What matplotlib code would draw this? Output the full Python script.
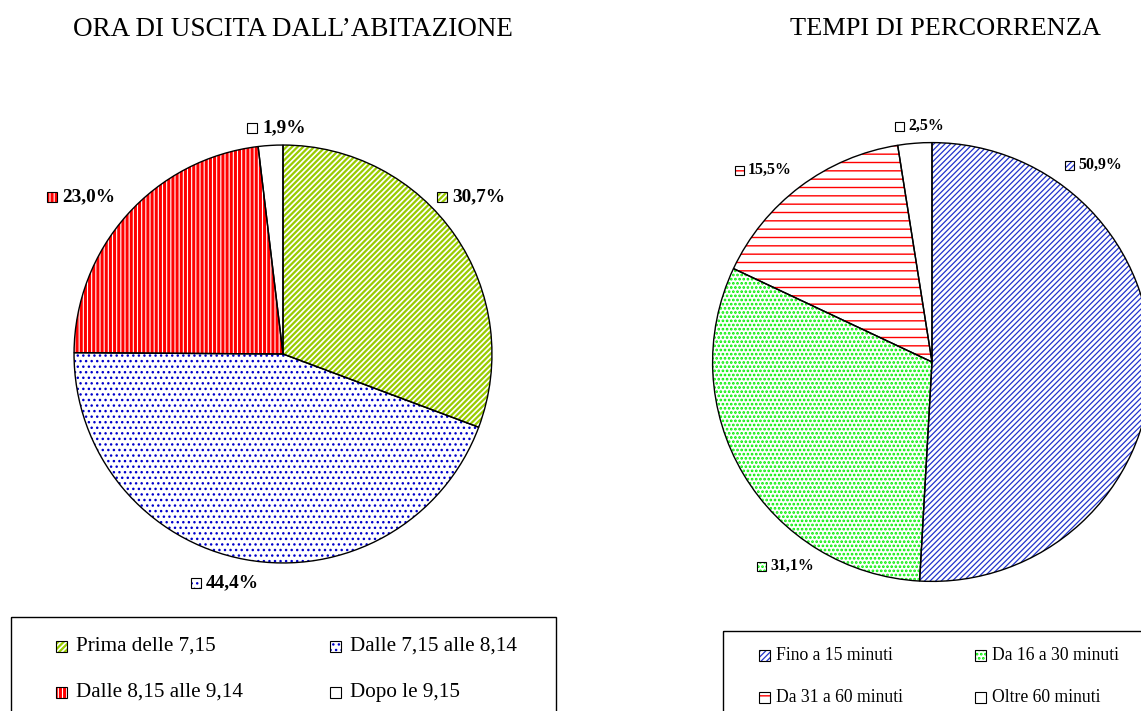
import matplotlib
matplotlib.use("Agg")
import matplotlib.pyplot as plt
from matplotlib.patches import Rectangle

# ---------------- data ----------------
title_left = "ORA DI USCITA DALL\u2019ABITAZIONE"
cats_left = ["Prima delle 7,15", "Dalle 7,15 alle 8,14", "Dalle 8,15 alle 9,14", "Dopo le 9,15"]
vals_left = [30.7, 44.4, 23.0, 1.9]

title_right = "TEMPI DI PERCORRENZA"
cats_right = ["Fino a 15 minuti", "Da 16 a 30 minuti", "Da 31 a 60 minuti", "Oltre 60 minuti"]
vals_right = [50.9, 31.1, 15.5, 2.5]

# ---------------- style ----------------
plt.rcParams['font.family'] = ['Liberation Serif', 'DejaVu Serif']
plt.rcParams['hatch.linewidth'] = 1.0

W, H = 1141, 711
fig = plt.figure(figsize=(W / 100, H / 100), dpi=100)

hatch_left = ['//////', '...', '||||', '']
hcol_left = ['#99CC00', '#0000CC', '#FF0000', 'white']
hlw_left = [1.6, 1.0, 2.2, 1.0]
hatch_right = ['//////', '....', '--', '']
hcol_right = ['#2233CC', '#00EE00', '#FF0000', 'white']
hlw_right = [0.9, 1.3, 1.0, 1.0]


def set_hlw(p, lw):
    if hasattr(p, 'set_hatch_linewidth'):
        p.set_hatch_linewidth(lw)
    else:
        p._hatch_linewidth = lw


def pie_axes(cx, cy, r):
    return fig.add_axes([(cx - r) / W, (H - cy - r) / H, 2 * r / W, 2 * r / H])


def draw_pie(ax, vals, hatches, hcols, hlws):
    wedges, _ = ax.pie(vals, startangle=90, counterclock=False, radius=1,
                       wedgeprops=dict(linewidth=0, facecolor='white'))
    for w, h, c, lw in zip(wedges, hatches, hcols, hlws):
        w.set_hatch(h)
        w.set_edgecolor(c)
        w.set_linewidth(0)
        set_hlw(w, lw)
    ax.pie(vals, startangle=90, counterclock=False, radius=1,
           wedgeprops=dict(linewidth=1.0, edgecolor='black', fill=False))
    ax.set_xlim(-1.005, 1.005)
    ax.set_ylim(-1.005, 1.005)
    ax.set_aspect('equal')
    ax.axis('off')


axL = pie_axes(283, 354, 210)
draw_pie(axL, vals_left, hatch_left, hcol_left, hlw_left)
axR = pie_axes(932, 362, 220.5)
draw_pie(axR, vals_right, hatch_right, hcol_right, hlw_right)

# overlay axes in pixel coordinates for texts / legends
ov = fig.add_axes([0, 0, 1, 1], zorder=5)
ov.set_xlim(0, W)
ov.set_ylim(H, 0)
ov.axis('off')
ov.patch.set_alpha(0)


def hatched_box(x, y, s, hatch, hcol, hlw, lw=0.8):
    p = Rectangle((x, y - s / 2), s, s, facecolor='white', edgecolor=hcol,
                  hatch=hatch, linewidth=0)
    set_hlw(p, hlw)
    ov.add_patch(p)
    ov.add_patch(Rectangle((x, y - s / 2), s, s, fill=False, edgecolor='black',
                           linewidth=lw))


# titles
ov.text(293, 29, title_left, ha='center', va='center', fontsize=19.5)
ov.text(945, 29, title_right, ha='center', va='center', fontsize=19)

# pie labels (left)
lab_left_pos = [(452, 197), (206, 583), (62, 197), (262, 128)]
for v, (x, y), h, c, lw in zip(vals_left, lab_left_pos, hatch_left, hcol_left, hlw_left):
    hatched_box(x - 15, y, 10, h, c, lw)
    ov.text(x, y, f"{v:.1f}%".replace('.', ','), ha='left', va='center',
            fontsize=13.9, fontweight='bold')

# pie labels (right)
lab_right_pos = [(1078, 165), (770, 566), (748, 170), (908, 126)]
for v, (x, y), h, c, lw in zip(vals_right, lab_right_pos, hatch_right, hcol_right, hlw_right):
    hatched_box(x - 13, y, 9, h, c, lw)
    ov.text(x, y, f"{v:.1f}%".replace('.', ','), ha='left', va='center',
            fontsize=11.4, fontweight='bold')

# legend left
ov.add_patch(Rectangle((11, 617), 545, 200, fill=False, edgecolor='black', linewidth=1))
leg_left_pos = [(76, 646), (350, 646), (76, 692), (350, 692)]
for name, (x, y), h, c, lw in zip(cats_left, leg_left_pos, hatch_left, hcol_left, hlw_left):
    hatched_box(x - 20, y, 11, h, c, lw)
    ov.text(x, y, name, ha='left', va='center', fontsize=15.2)

# legend right
ov.add_patch(Rectangle((723, 631), 500, 200, fill=False, edgecolor='black', linewidth=1))
leg_right_pos = [(776, 655), (992, 655), (776, 697), (992, 697)]
for name, (x, y), h, c, lw in zip(cats_right, leg_right_pos, hatch_right, hcol_right, hlw_right):
    hatched_box(x - 17, y, 11, h, c, lw)
    ov.text(x, y, name, ha='left', va='center', fontsize=12.7)

fig.savefig("out.png", dpi=100)
